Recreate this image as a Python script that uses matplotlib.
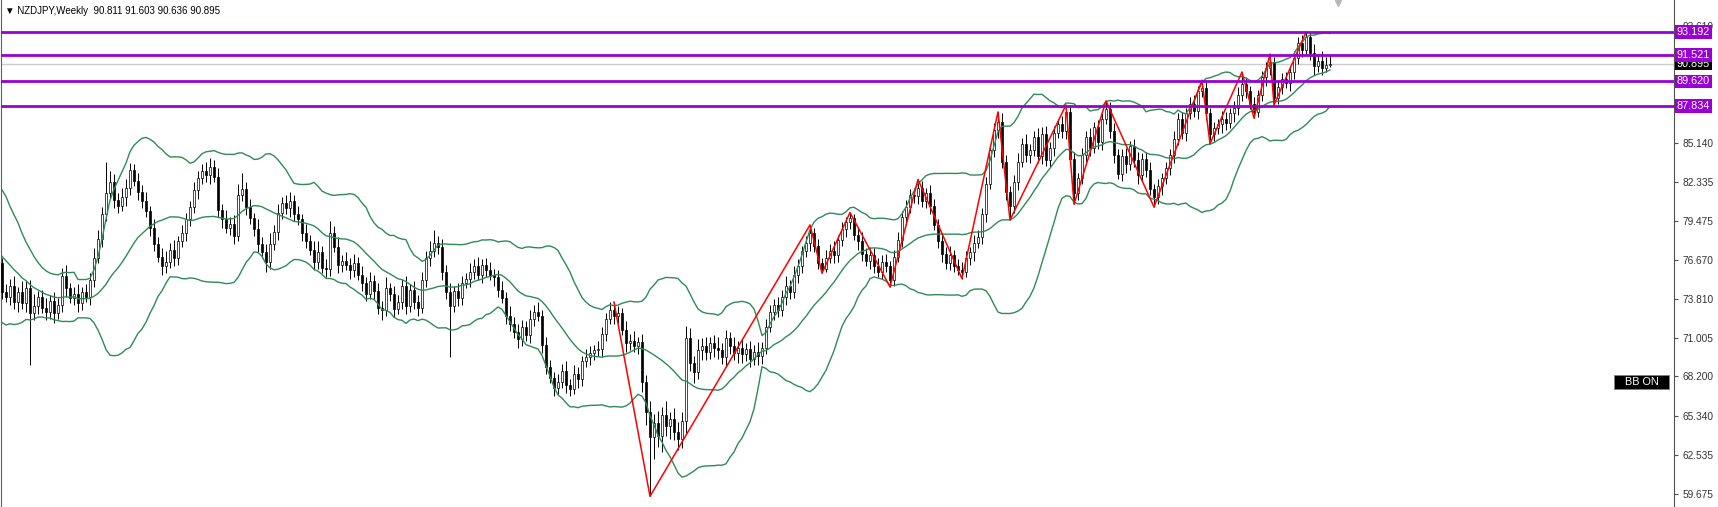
import numpy as np
import pandas as pd
import matplotlib
matplotlib.use("Agg")
import matplotlib.pyplot as plt
from matplotlib.transforms import blended_transform_factory
from matplotlib.patches import Rectangle

plt.rcParams['font.family'] = ['Liberation Sans', 'DejaVu Sans']

title_text = "\u25bc NZDJPY,Weekly  90.811 91.603 90.636 90.895"

# weekly closes before the first visible bar (only feed the bands)
prior_closes = [80.6, 81.0, 80.3, 79.6, 79.9, 78.9, 78.4, 77.8, 77.1, 76.6,
                76.1, 75.4, 75.0, 74.4, 74.8, 74.0, 74.3, 73.6, 76.4]

closes = [
    74.3, 74.0, 74.8, 73.6, 74.3, 73.5, 74.6, 72.8, 73.3, 74.0,
    73.2, 72.9, 73.7, 72.8, 73.4, 75.5, 74.6, 73.9, 74.2, 73.5,
    74.3, 74.0, 75.2, 76.8, 78.2, 80.0, 81.5, 82.3, 81.0, 80.6,
    81.2, 81.9, 83.2, 82.4, 81.6, 80.9, 80.2, 79.0, 77.8, 76.9,
    76.2, 76.5, 77.4, 76.8, 78.0, 78.6, 79.6, 80.5, 81.7, 82.6,
    83.1, 82.8, 83.4, 82.7, 80.3, 79.6, 79.0, 79.3, 78.4, 81.4,
    81.8, 80.5, 79.7, 78.9, 77.8, 77.2, 76.5, 77.8, 78.7, 80.1,
    80.8, 80.4, 80.9, 80.0, 79.6, 78.6, 78.0, 77.4, 76.5, 77.2,
    76.1, 76.0, 78.6, 77.6, 76.3, 76.6, 76.3, 75.9, 76.4, 75.6,
    75.0, 74.2, 75.1, 74.4, 73.2, 73.0, 74.6, 74.2, 73.1, 73.6,
    74.8, 73.3, 74.5, 73.6, 73.2, 75.2, 76.8, 77.3, 77.9, 77.6,
    75.8, 74.3, 73.3, 74.4, 73.9, 75.0, 75.3, 75.8, 76.2, 75.6,
    76.3, 75.9, 75.6, 75.4, 74.5, 73.9, 72.6, 72.0, 71.4, 70.9,
    71.8, 71.2, 72.4, 72.9, 72.6, 70.5, 68.9, 68.1, 67.4, 67.8,
    68.6, 67.6, 67.3, 68.4, 68.0, 69.3, 69.6, 69.9, 70.1, 70.2,
    71.3, 72.4, 73.0, 72.6, 72.8, 71.6, 70.6, 70.8, 70.4, 70.7,
    67.8, 65.6, 63.8, 64.8, 63.9, 65.4, 64.6, 65.1, 64.2, 63.7,
    65.0, 71.0, 69.2, 68.5, 70.1, 70.4, 70.0, 70.6, 70.3, 70.1,
    69.6, 71.0, 70.4, 69.9, 70.3, 69.8, 70.2, 69.5, 70.0, 69.7,
    70.3, 71.8, 72.9, 73.4, 73.0, 74.0, 74.8, 74.3, 75.6, 76.2,
    77.3, 77.9, 78.6, 77.7, 76.4, 76.0, 76.8, 77.3, 77.0, 78.1,
    78.9, 79.4, 79.7, 78.5, 78.0, 77.1, 76.6, 77.0, 76.2, 75.8,
    76.5, 76.2, 75.2, 76.9, 78.1, 79.8, 80.5, 81.4, 81.3, 81.9,
    80.9, 81.5, 80.6, 79.2, 78.0, 77.1, 76.4, 77.0, 76.2, 75.9,
    75.8, 76.8, 77.2, 77.9, 78.3, 80.0, 82.2, 84.6, 86.1, 86.7,
    83.8, 81.6, 80.6, 82.3, 83.8, 85.1, 84.3, 84.6, 85.6, 84.2,
    85.8, 83.9, 84.8, 85.9, 86.5, 86.0, 87.4, 84.0, 81.5, 82.6,
    84.3, 85.6, 84.8, 86.3, 85.2, 86.9, 87.6, 86.0, 84.3, 82.9,
    84.2, 83.6, 84.9, 83.9, 82.8, 84.0, 83.2, 81.8, 81.2, 82.0,
    82.6, 83.3, 84.3, 85.4, 86.9, 85.9, 87.3, 88.0, 87.5, 88.9,
    89.1, 87.3, 85.8, 86.2, 86.5, 86.9, 86.6, 87.3, 87.7, 88.6,
    89.4, 88.9, 88.0, 87.4, 88.6, 89.9, 90.6, 91.0, 88.4, 89.2,
    89.8, 89.5, 90.3, 91.3, 92.4, 91.9, 92.8, 91.7, 90.7, 91.1,
    90.6, 90.811, 90.895,
]

upper_wick = [
    0.4, 0.6, 0.5, 0.7, 0.4, 0.8, 0.5, 0.6, 0.9, 0.4,
    0.5, 0.7, 0.4, 0.6, 0.5, 0.6, 0.8, 0.4, 0.5, 0.7,
    0.4, 0.6, 0.5, 0.7, 0.6, 0.5, 2.3, 0.8, 0.6, 0.5,
    0.7, 0.6, 0.5, 0.4, 0.6, 0.5, 0.7, 0.4, 0.6, 0.5,
    0.6, 0.8, 0.5, 0.7, 0.4, 0.6, 0.5, 0.4, 0.6, 0.5,
    0.5, 0.7, 0.65, 0.5, 0.6, 0.4, 0.7, 0.5, 0.6, 0.8,
    1.2, 0.5, 0.6, 0.4, 0.7, 0.5, 0.6, 0.8, 0.5, 0.6,
    0.4, 0.6, 0.7, 0.5, 0.6, 0.4, 0.7, 0.5, 0.6, 0.8,
    0.5, 0.6, 0.9, 0.5, 0.7, 0.4, 0.6, 0.5, 0.7, 0.5,
    0.6, 0.4, 0.7, 0.5, 0.6, 0.5, 0.8, 0.4, 0.6, 0.5,
    0.5, 0.7, 0.4, 0.6, 0.5, 0.6, 0.5, 0.7, 0.9, 0.5,
    0.6, 0.5, 0.7, 0.4, 0.6, 0.5, 0.4, 0.6, 0.5, 0.7,
    0.4, 0.5, 0.6, 0.4, 0.5, 0.6, 0.4, 0.7, 0.5, 0.6,
    0.5, 0.4, 0.6, 0.5, 0.7, 0.4, 0.6, 0.5, 0.4, 0.6,
    0.5, 0.7, 0.4, 0.6, 0.5, 0.4, 0.6, 0.5, 0.4, 0.6,
    0.5, 0.4, 0.6, 0.6, 0.5, 0.4, 0.6, 0.5, 0.7, 0.4,
    0.6, 0.5, 0.8, 0.7, 0.9, 0.6, 1.0, 0.5, 0.8, 0.7,
    0.6, 0.9, 0.7, 0.5, 0.8, 0.6, 0.7, 0.5, 0.6, 0.8,
    0.5, 0.6, 0.4, 0.7, 0.5, 0.6, 0.4, 0.6, 0.5, 0.7,
    0.4, 0.6, 0.5, 0.4, 0.6, 0.5, 0.7, 0.4, 0.6, 0.5,
    0.4, 0.5, 0.6, 0.4, 0.5, 0.4, 0.6, 0.5, 0.7, 0.4,
    0.5, 0.4, 0.4, 0.3, 0.5, 0.7, 0.4, 0.6, 0.5, 0.6,
    0.5, 0.6, 0.4, 0.5, 0.6, 0.4, 0.5, 0.4, 0.5, 0.6,
    0.5, 0.4, 0.6, 0.5, 0.4, 0.6, 0.5, 0.7, 0.4, 0.5,
    0.6, 0.5, 0.4, 0.6, 0.5, 0.4, 0.5, 0.4, 0.5, 0.7,
    0.6, 0.5, 0.4, 0.5, 0.6, 0.4, 0.7, 0.5, 0.4, 0.6,
    0.5, 0.6, 0.4, 0.5, 0.4, 0.6, 0.5, 0.4, 0.5, 0.4,
    0.5, 0.4, 0.6, 0.4, 0.5, 0.4, 0.6, 0.5, 0.6, 0.4,
    0.5, 0.6, 0.4, 0.5, 0.6, 0.4, 0.5, 0.6, 0.4, 0.5,
    0.4, 0.5, 0.4, 0.6, 0.4, 0.5, 0.4, 0.5, 0.6, 0.4,
    0.6, 0.5, 0.4, 0.5, 0.4, 0.6, 0.5, 0.4, 0.5, 0.6,
    0.9, 0.5, 0.4, 0.5, 0.4, 0.5, 0.4, 0.6, 0.4, 0.5,
    0.4, 0.5, 0.4, 0.5, 0.4, 0.6, 0.39, 0.3, 0.6, 0.5,
    0.7, 0.6, 0.708,
]

lower_wick = [
    0.5, 0.4, 0.6, 0.5, 0.7, 0.4, 0.6, 3.8, 0.5, 0.6,
    0.4, 0.6, 0.5, 0.7, 0.4, 0.5, 0.6, 0.4, 0.5, 0.6,
    0.5, 0.4, 0.6, 0.5, 0.4, 0.6, 0.5, 0.4, 0.6, 0.5,
    0.4, 0.6, 0.5, 0.4, 0.6, 0.5, 0.4, 0.6, 0.5, 0.4,
    0.6, 0.5, 0.4, 0.6, 0.5, 0.4, 0.6, 0.5, 0.4, 0.6,
    0.4, 0.5, 0.6, 0.4, 0.5, 0.6, 0.4, 0.5, 0.6, 0.4,
    0.5, 0.6, 0.4, 0.5, 0.6, 0.4, 0.7, 0.5, 0.4, 0.6,
    0.5, 0.4, 0.6, 0.5, 0.4, 0.6, 0.5, 0.4, 0.6, 0.5,
    0.4, 0.6, 0.5, 0.4, 0.6, 0.5, 0.4, 0.6, 0.5, 0.4,
    0.6, 0.5, 0.4, 0.6, 0.5, 0.7, 0.4, 0.5, 0.6, 0.4,
    0.5, 0.6, 0.4, 0.5, 0.6, 0.4, 0.5, 0.6, 0.4, 0.5,
    0.6, 0.5, 3.7, 0.4, 0.6, 0.5, 0.4, 0.6, 0.5, 0.4,
    0.6, 0.5, 0.4, 0.6, 0.5, 0.4, 0.6, 0.5, 0.4, 0.6,
    0.5, 0.4, 0.6, 0.5, 0.4, 0.6, 0.5, 0.4, 0.6, 0.5,
    0.4, 0.6, 0.5, 0.4, 0.6, 0.5, 0.4, 0.6, 0.5, 0.4,
    0.6, 0.5, 0.4, 0.6, 0.5, 0.4, 0.6, 0.5, 0.4, 0.6,
    0.7, 0.9, 4.3, 1.6, 0.8, 1.2, 0.7, 0.9, 0.6, 0.8,
    0.7, 0.9, 0.6, 0.8, 0.5, 0.7, 0.6, 0.5, 0.7, 0.6,
    0.5, 0.7, 0.6, 0.5, 0.7, 0.6, 0.5, 0.6, 0.5, 0.7,
    0.6, 0.5, 0.4, 0.6, 0.5, 0.4, 0.6, 0.5, 0.4, 0.6,
    0.5, 0.4, 0.6, 0.5, 0.4, 0.3, 0.2, 0.4, 0.6, 0.5,
    0.4, 0.6, 0.5, 0.4, 0.6, 0.5, 0.4, 0.6, 0.5, 0.4,
    0.5, 0.4, 0.5, 0.4, 0.4, 0.5, 0.6, 0.4, 0.5, 0.6,
    0.4, 0.5, 0.6, 0.4, 0.5, 0.6, 0.4, 0.5, 0.4, 0.3,
    0.5, 0.4, 0.5, 0.6, 0.4, 0.5, 0.6, 0.4, 0.5, 0.6,
    0.5, 0.6, 1.05, 0.5, 0.6, 0.4, 0.5, 0.6, 0.4, 0.5,
    0.6, 0.4, 0.5, 0.6, 0.4, 0.5, 0.6, 0.4, 0.8, 0.5,
    0.4, 0.5, 0.6, 0.4, 0.5, 0.6, 0.4, 0.5, 0.6, 0.4,
    0.5, 0.6, 0.4, 0.5, 0.6, 0.4, 0.5, 0.4, 0.7, 0.5,
    0.6, 0.4, 0.5, 0.6, 0.4, 0.5, 0.6, 0.4, 0.5, 0.6,
    0.4, 0.5, 0.7, 0.5, 0.4, 0.6, 0.5, 0.4, 0.6, 0.5,
    0.4, 0.5, 0.4, 0.45, 0.4, 0.4, 0.6, 0.5, 0.5, 0.4,
    0.5, 0.4, 0.6, 0.5, 0.4, 0.5, 0.4, 0.5, 0.6, 0.4,
    0.5, 0.3, 0.175,
]

# zigzag pivots: bar index and H (high) / L (low)
zz_index = [153, 162, 202, 205, 212, 222, 229, 240, 249, 252, 266,
            268, 276, 288, 300, 302, 310, 313, 317, 318, 326]
zz_kind = ['H', 'L', 'H', 'L', 'H', 'L', 'H', 'L', 'H', 'L', 'H',
           'L', 'H', 'L', 'H', 'L', 'H', 'L', 'H', 'L', 'H']

level_prices = [93.192, 91.521, 89.620, 87.834]
axis_ticks = [59.675, 62.535, 65.340, 68.200, 71.005, 73.810, 76.670,
              79.475, 82.335, 85.140, 93.610]
last_price = 90.895

# ---- build OHLC ----
all_closes = np.array(prior_closes + closes)
c = np.array(closes)
o = all_closes[len(prior_closes) - 1:-1]
h = np.maximum(o, c) + np.array(upper_wick)
l = np.minimum(o, c) - np.array(lower_wick)
x = np.arange(len(c))

s = pd.Series(all_closes)
mid = s.rolling(20).mean()
sd = s.rolling(20).std(ddof=0)
n0 = len(prior_closes)
bb_mid = mid.values[n0:]
bb_up = (mid + 2 * sd).values[n0:]
bb_lo = (mid - 2 * sd).values[n0:]

W, H = 1718, 507
fig = plt.figure(figsize=(W / 100, H / 100), dpi=100)
fig.patch.set_facecolor('white')
ax = fig.add_axes([1 / W, 0, 1673 / W, 1])
ax.set_xlim(-0.25, 418.0)
ax.set_ylim(58.73, 95.52)

# candles
ax.vlines(x, l, h, color='black', lw=0.7, zorder=2)
bull = c >= o
ax.bar(x[bull], (c - o)[bull], bottom=o[bull], width=0.6, color='white',
       edgecolor='black', linewidth=0.5, zorder=3)
ax.bar(x[~bull], (o - c)[~bull], bottom=c[~bull], width=0.6, color='black',
       edgecolor='black', linewidth=0.5, zorder=3)

# bollinger bands
for band in (bb_up, bb_mid, bb_lo):
    ax.plot(x, band, color='#2e8b57', lw=1.0, zorder=4)

# zigzag
zz_y = [h[i] if k == 'H' else l[i] for i, k in zip(zz_index, zz_kind)]
ax.plot(zz_index, zz_y, color='#ff0000', lw=1.1, zorder=5)

# horizontal levels
ax.axhline(last_price, color='#cccccc', lw=1.0, zorder=1)
for p in level_prices:
    ax.axhline(p, color='#9900d6', lw=2.0, zorder=6)

# axis styling
for side in ('top', 'bottom'):
    ax.spines[side].set_visible(False)
ax.spines['left'].set_color('#606060')
ax.spines['right'].set_color('#505050')
ax.set_xticks([])
ax.yaxis.tick_right()
ax.set_yticks(axis_ticks)
ax.set_yticklabels([f"{t:.3f}" for t in axis_ticks])
ax.tick_params(axis='y', length=3, width=0.8, color='#505050', pad=3,
               labelsize=7.3, labelcolor='#333333')

tr = blended_transform_factory(ax.transAxes, ax.transData)
lx = 1.0 + 3 / 1673
ax.text(lx, last_price, f"{last_price:.3f}", transform=tr, ha='left', va='center',
        fontsize=7.8, color='white', clip_on=False, zorder=7,
        bbox=dict(boxstyle='square,pad=0.15', fc='black', ec='none'))
for p in level_prices:
    ax.text(lx, p, f"{p:.3f}", transform=tr, ha='left', va='center',
            fontsize=7.8, color='white', clip_on=False, zorder=8,
            bbox=dict(boxstyle='square,pad=0.15', fc='#9900d6', ec='none'))

# "BB ON" button
bx0, bx1 = (1614 - 1) / 1673, (1669 - 1) / 1673
by0, by1 = 1 - 389 / H, 1 - 375 / H
ax.add_patch(Rectangle((bx0, by0), bx1 - bx0, by1 - by0, transform=ax.transAxes,
                       fc='black', ec='#808080', lw=0.6, zorder=9))
ax.text((bx0 + bx1) / 2, (by0 + by1) / 2, "BB ON", transform=ax.transAxes,
        ha='center', va='center', fontsize=7.8, color='white', zorder=10)

# chart shift marker and title
ax.plot([(1338 - 1) / 1673], [1 - 3 / H], marker='v', ms=5, color='#b8b8b8',
        transform=ax.transAxes, clip_on=False, zorder=10)
fig.text(5 / W, 1 - 11 / H, title_text, fontsize=7, color='black',
         ha='left', va='center')

fig.savefig('out.png', dpi=100)
